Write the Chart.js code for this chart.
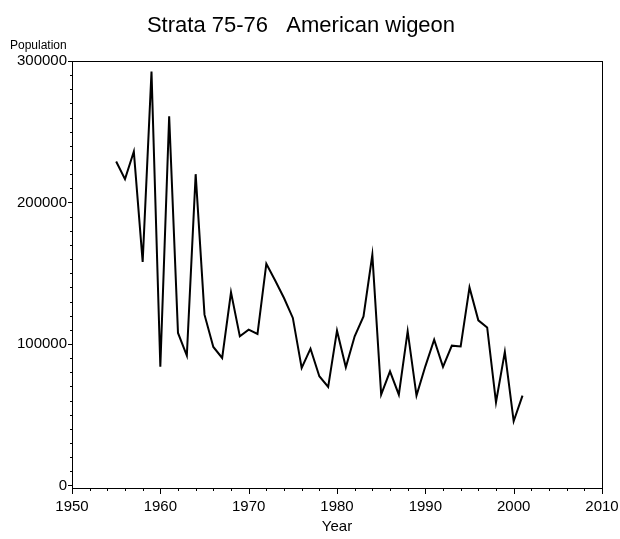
<!DOCTYPE html>
<html>
<head>
<meta charset="utf-8">
<script src="https://cdn.jsdelivr.net/npm/chart.js@4/dist/chart.umd.min.js"></script>
<style>
  html, body { margin: 0; padding: 0; background: #fff; }
  canvas { display: block; }
</style>
</head>
<body>
<canvas id="grafico" width="620" height="539"></canvas>
<script>
// anos e populacao
const anos = [1955, 1956, 1957, 1958, 1959, 1960, 1961, 1962, 1963, 1964,
              1965, 1966, 1967, 1968, 1969, 1970, 1971, 1972, 1973, 1974,
              1975, 1976, 1977, 1978, 1979, 1980, 1981, 1982, 1983, 1984,
              1985, 1986, 1987, 1988, 1989, 1990, 1991, 1992, 1993, 1994,
              1995, 1996, 1997, 1998, 1999, 2000, 2001];
const populacao = [229000, 216500, 236000, 158000, 292500, 84000, 261000, 107800, 91800, 220000,
                   120700, 97900, 90100, 136500, 105400, 110100, 107100, 156700, 144900, 132500,
                   118400, 83100, 96700, 77200, 69700, 109400, 83500, 105400, 119500, 163000,
                   64200, 80700, 64200, 109000, 63500, 84200, 103000, 83800, 98800, 98300,
                   140000, 116700, 111700, 58800, 94400, 45400, 63500];

// ticks dos eixos
const ticksX = [1950, 1960, 1970, 1980, 1990, 2000, 2010];
const ticksY = [0, 100000, 200000, 300000];
const passoMenorX = 2;
const passoMenorY = 10000;

const fonte = '"Liberation Sans", Arial, sans-serif';

// desenha a moldura e os tracinhos dos eixos
const moldura = {
    id: 'moldura',
    afterDraw(chart) {
        const ctx = chart.ctx;
        const area = chart.chartArea;
        const sx = chart.scales.x;
        const sy = chart.scales.y;
        ctx.save();
        ctx.strokeStyle = '#000';
        ctx.lineWidth = 1;
        ctx.strokeRect(area.left + 0.5, area.top + 0.5, area.right - area.left, area.bottom - area.top);

        ctx.beginPath();
        for (let v = sx.min; v <= sx.max; v += passoMenorX) {
            const px = Math.round(sx.getPixelForValue(v)) + 0.5;
            const tam = v % 10 === 0 ? 6 : 3;
            ctx.moveTo(px, area.bottom);
            ctx.lineTo(px, area.bottom + tam);
        }
        for (let v = 0; v <= 300000; v += passoMenorY) {
            const py = Math.round(sy.getPixelForValue(v)) + 0.5;
            const tam = v % 100000 === 0 ? 4 : 2;
            ctx.moveTo(area.left, py);
            ctx.lineTo(area.left - tam, py);
        }
        ctx.stroke();

        ctx.fillStyle = '#000';
        ctx.font = '12px ' + fonte;
        ctx.textAlign = 'left';
        ctx.textBaseline = 'middle';
        ctx.fillText('Population', 10, 46);
        ctx.restore();
    }
};

new Chart(document.getElementById('grafico'), {
    type: 'line',
    data: {
        labels: anos,
        datasets: [{
            data: anos.map((a, i) => ({ x: a, y: populacao[i] })),
            borderColor: '#000',
            borderWidth: 2,
            pointRadius: 0,
            tension: 0,
            fill: false
        }]
    },
    options: {
        responsive: false,
        devicePixelRatio: 1,
        animation: false,
        layout: { padding: { left: 0, right: 18, top: 0, bottom: 0 } },
        plugins: {
            legend: { display: false },
            tooltip: { enabled: false },
            title: {
                display: true,
                text: 'Strata 75-76   American wigeon',
                color: '#000',
                font: { family: fonte, size: 22, weight: 'normal' },
                padding: { top: 13, bottom: 21.6 }
            }
        },
        scales: {
            x: {
                type: 'linear',
                min: 1950,
                max: 2010,
                afterBuildTicks: s => { s.ticks = ticksX.map(v => ({ value: v })); },
                afterFit: s => { s.height = 51; s.paddingRight = 0; },
                grid: { display: false, drawTicks: false },
                border: { display: false },
                ticks: {
                    color: '#000',
                    padding: 10,
                    maxRotation: 0,
                    font: { family: fonte, size: 15 },
                    callback: v => String(v)
                },
                title: {
                    display: true,
                    text: 'Year',
                    color: '#000',
                    font: { family: fonte, size: 15 },
                    padding: { top: 0, bottom: 3 }
                }
            },
            y: {
                min: -1800,
                max: 300000,
                afterBuildTicks: s => { s.ticks = ticksY.map(v => ({ value: v })); },
                afterFit: s => { s.width = 72; },
                grid: { display: false, drawTicks: false },
                border: { display: false },
                ticks: {
                    color: '#000',
                    padding: 5,
                    font: { family: fonte, size: 15 },
                    callback: v => String(v)
                }
            }
        }
    },
    plugins: [moldura]
});
</script>
</body>
</html>
